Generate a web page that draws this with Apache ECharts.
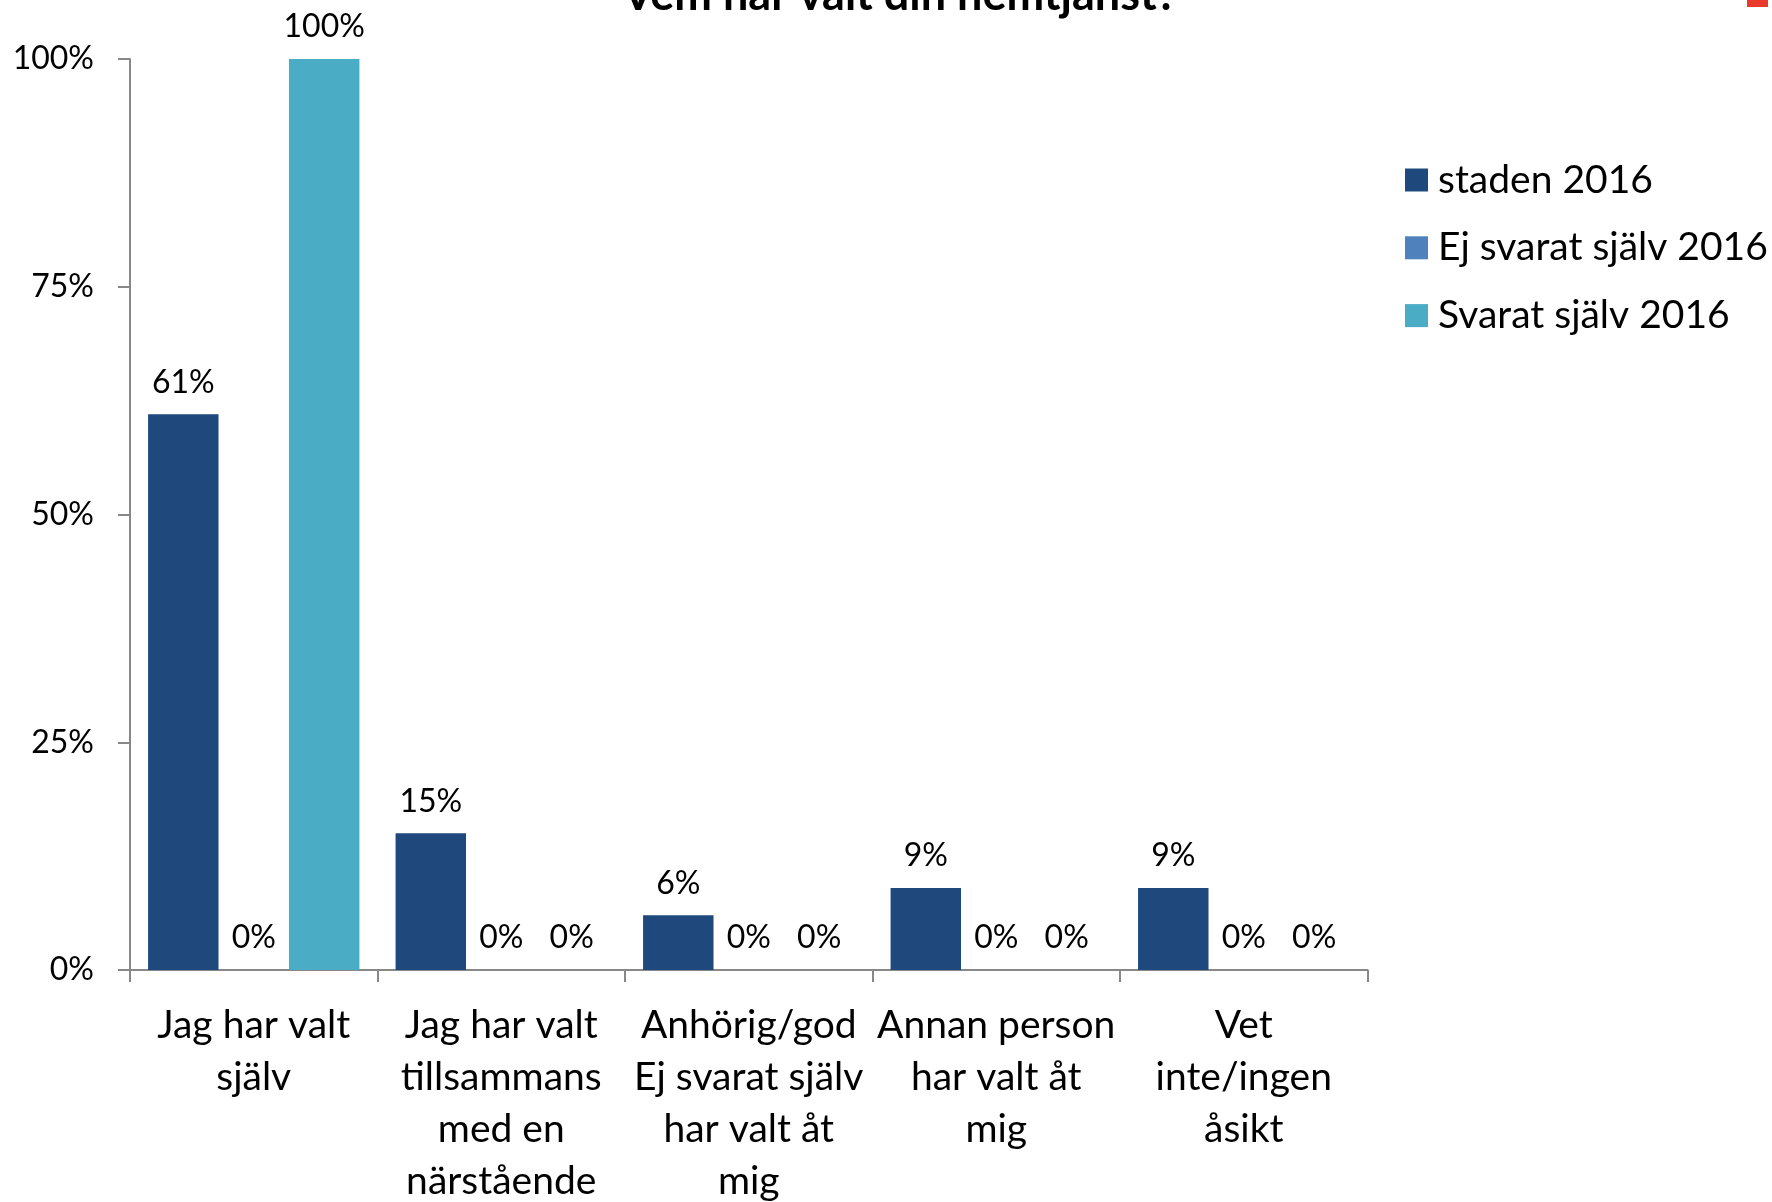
<!DOCTYPE html>
<html>
<head>
<meta charset="utf-8">
<script src="https://cdn.jsdelivr.net/npm/echarts@6/dist/echarts.min.js"></script>
<style>
  html, body { margin: 0; padding: 0; background: #ffffff; }
  #chart { width: 1772px; height: 1202px; }
</style>
</head>
<body>
<div id="chart"></div>
<script>
// Vem har valt din hemtjänst? – andel svar per alternativ
const titleText = 'Vem har valt din hemtjänst?';
const categories = [
  'Jag har valt\nsjälv',
  'Jag har valt\ntillsammans\nmed en\nnärstående',
  'Anhörig/god\nEj svarat själv\nhar valt åt\nmig',
  'Annan person\nhar valt åt\nmig',
  'Vet\ninte/ingen\nåsikt'
];
const seriesNames = ['staden 2016', 'Ej svarat själv 2016', 'Svarat själv 2016'];
const stadenValues = [61, 15, 6, 9, 9];
const ejSvaratValues = [0, 0, 0, 0, 0];
const svaratValues = [100, 0, 0, 0, 0];
const yTicks = [0, 25, 50, 75, 100];

const colors = ['#1F497D', '#4F81BD', '#4BACC6'];
const FONT = 'Lato';
const axisGray = '#888888';

const chart = echarts.init(document.getElementById('chart'), null, { renderer: 'canvas' });

const labelStyle = {
  show: true,
  position: 'top',
  distance: 16,
  fontFamily: FONT,
  fontSize: 32,
  color: '#000000',
  formatter: p => p.value + '%'
};

function barSeries(i, values) {
  return {
    name: seriesNames[i],
    type: 'bar',
    data: values,
    barGap: '0%',
    barCategoryGap: '14.6%',
    itemStyle: { color: colors[i] },
    label: labelStyle,
    animation: false
  };
}

chart.setOption({
  animation: false,
  backgroundColor: '#ffffff',
  textStyle: { fontFamily: FONT },
  grid: {
    left: 130, right: 404.5, top: 59, bottom: 232,
    containLabel: false,
    outerBoundsMode: 'none'
  },
  legend: {
    orient: 'vertical',
    left: 1405,
    top: 160,
    padding: 0,
    itemWidth: 23,
    itemHeight: 23,
    itemGap: 27.8,
    icon: 'rect',
    selectedMode: false,
    textStyle: { fontFamily: FONT, fontSize: 39, color: '#000000', lineHeight: 40, padding: [0, 0, 0, 5] },
    data: seriesNames
  },
  xAxis: {
    type: 'category',
    data: categories,
    boundaryGap: true,
    axisLine: { show: true, lineStyle: { color: axisGray, width: 2 } },
    axisTick: { show: true, length: 12, inside: false, alignWithLabel: false, lineStyle: { color: axisGray, width: 2 } },
    axisLabel: {
      interval: 0,
      margin: 29,
      fontFamily: FONT,
      fontSize: 39,
      lineHeight: 52,
      color: '#000000',
      align: 'center',
      verticalAlign: 'top'
    },
    splitLine: { show: false }
  },
  yAxis: {
    type: 'value',
    min: yTicks[0],
    max: yTicks[yTicks.length - 1],
    interval: yTicks[1] - yTicks[0],
    axisLine: { show: true, lineStyle: { color: axisGray, width: 2 } },
    axisTick: { show: true, length: 12, inside: false, lineStyle: { color: axisGray, width: 2 } },
    axisLabel: {
      margin: 36,
      fontFamily: FONT,
      fontSize: 32,
      color: '#000000',
      formatter: v => v + '%'
    },
    splitLine: { show: false }
  },
  series: [
    barSeries(0, stadenValues),
    barSeries(1, ejSvaratValues),
    barSeries(2, svaratValues)
  ],
  graphic: [
    {
      type: 'text',
      x: 900,
      y: -5,
      style: {
        text: titleText,
        font: 'bold 45px ' + FONT,
        fill: '#000000',
        align: 'center',
        verticalAlign: 'middle'
      },
      silent: true
    },
    {
      type: 'rect',
      shape: { x: 1747, y: 0, width: 21, height: 7 },
      style: { fill: '#E8392B' },
      silent: true
    }
  ]
});
</script>
</body>
</html>
